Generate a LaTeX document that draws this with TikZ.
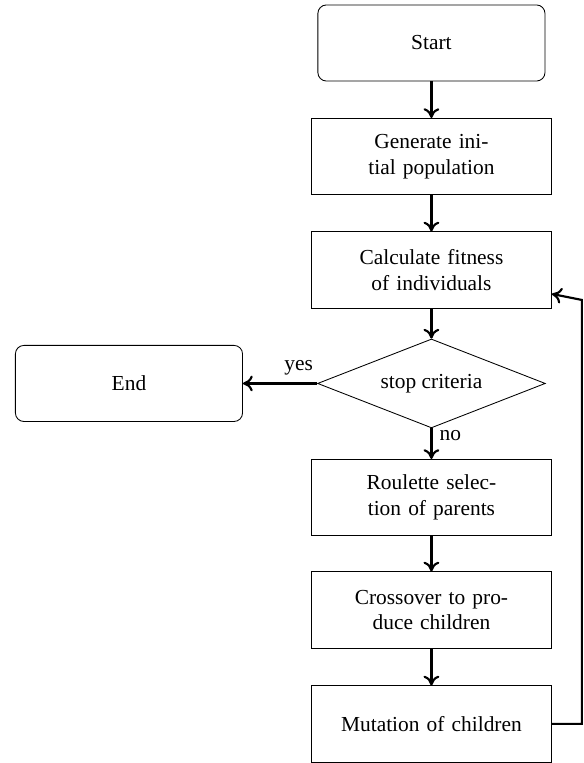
\documentclass[tikz,border=0pt]{standalone}
\usepackage{fontspec}
\setmainfont{Liberation Serif}
\usepackage{tikz}
\usetikzlibrary{
  shapes.geometric,
  arrows.meta,
  positioning
}

\begin{document}
\begin{tikzpicture}[
  terminal/.style={rectangle, draw, rounded corners, minimum width=3.73cm, minimum height=1.25cm, align=center},
  process/.style={rectangle, draw, text width=3.71cm, minimum height=1.25cm, align=center},
  decision/.style={diamond, draw, aspect=2.56, minimum width=3.74cm, minimum height=1.46cm, align=center},
  flow/.style={-{To[length=1.6mm, width=2.6mm]}, line width=1pt}
]
  \useasboundingbox (0,0) rectangle (9.59,-12.53);

  \node[terminal] (start) at (7.085,-0.706) {Start};
  \node[process] (init) at (7.085,-2.570) {Generate initial population};
  \node[process] (fit) at (7.085,-4.433) {Calculate fitness of individuals};
  \node[decision] (crit) at (7.085,-6.297) {stop criteria};
  \node[terminal] (fin) at (2.118,-6.297) {End};
  \node[process] (sel) at (7.085,-8.169) {Roulette selection of parents};
  \node[process] (cross) at (7.085,-10.016) {Crossover to produce children};
  \node[process] (mut) at (7.085,-11.888) {Mutation of children};
  \coordinate (back) at (9.556,-4.926);

  \draw[flow] (start) -- (init);
  \draw[flow] (init) -- (fit);
  \draw[flow] (fit) -- (crit);
  \draw[flow] (crit) -- node[near start, above] {yes} (fin);
  \draw[flow] (crit) -- node[near start, right] {no} (sel);
  \draw[flow] (sel) -- (cross);
  \draw[flow] (cross) -- (mut);
  \draw[flow] (mut.east) -| (back) -- (fit);
\end{tikzpicture}
\end{document}
